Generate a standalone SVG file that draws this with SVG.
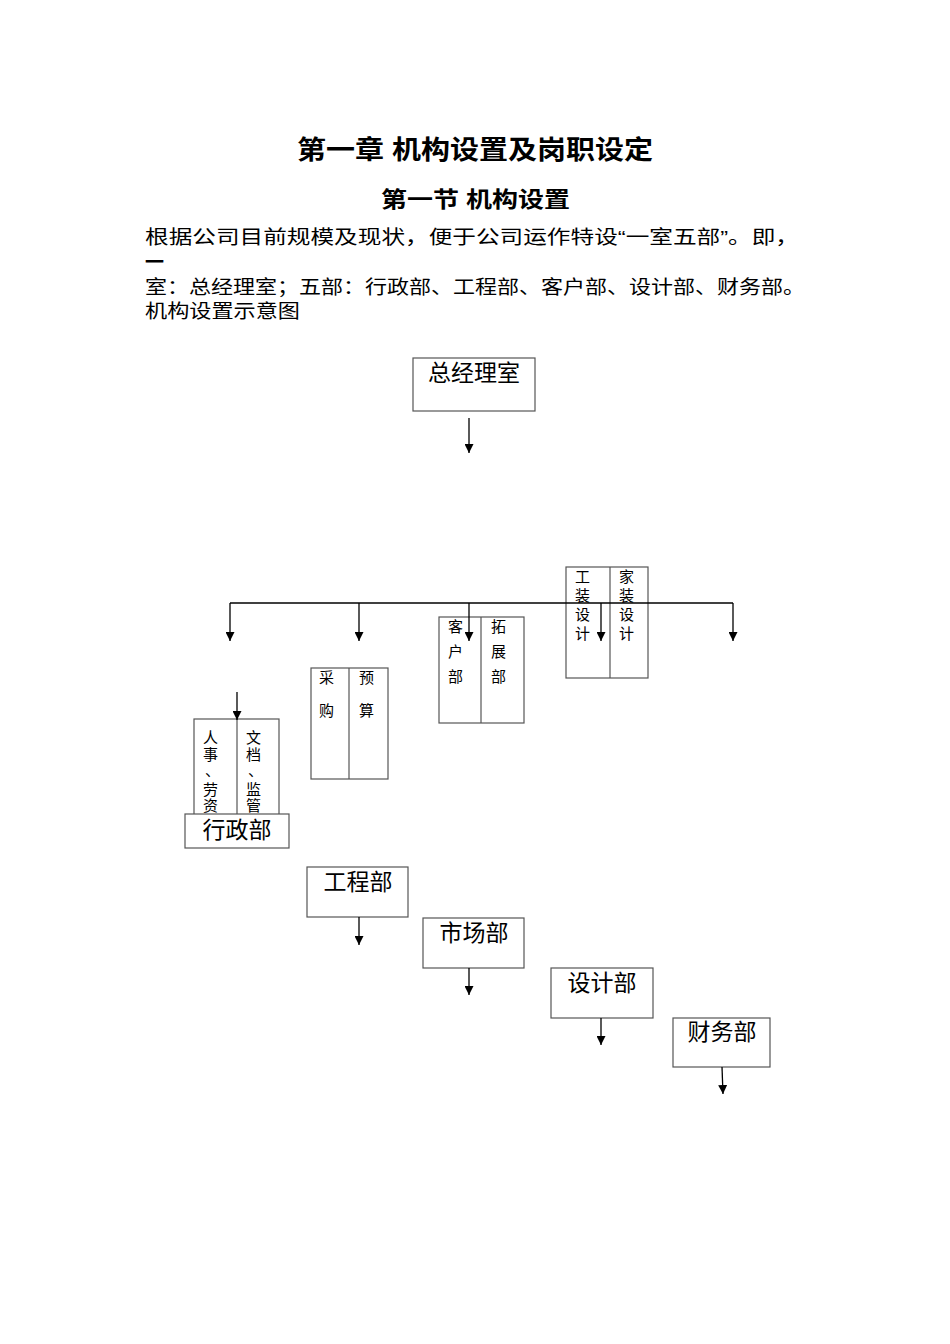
<svg xmlns="http://www.w3.org/2000/svg" width="950" height="1344" viewBox="0 0 950 1344">
<defs><marker id="a" viewBox="0 0 10 10" refX="10" refY="5" markerWidth="9" markerHeight="9" markerUnits="userSpaceOnUse" orient="auto"><path d="M0,0L10,5L0,10z" fill="#000"/></marker></defs>
<style>
text{font-family:"Liberation Sans","Noto Sans CJK SC",sans-serif;fill:#000}
.b{fill:#fff;stroke:#555;stroke-width:1.2}
.l{stroke:#000;stroke-width:1.3;fill:none}
.ar{stroke:#000;stroke-width:1.3;marker-end:url(#a)}
.s{font-size:15px}
.m{font-size:23px}
.p{font-size:19px}
</style>
<rect width="950" height="1344" fill="#fff"/>
<text x="297" y="159" font-size="26" font-weight="bold" textLength="356" lengthAdjust="spacingAndGlyphs">第一章  机构设置及岗职设定</text>
<text x="381" y="207" font-size="22" font-weight="bold" textLength="189" lengthAdjust="spacingAndGlyphs">第一节  机构设置</text>
<text class="p" x="145" y="244" textLength="654" lengthAdjust="spacingAndGlyphs">根据公司目前规模及现状，便于公司运作特设“一室五部”。即，</text>
<text class="p" x="145" y="269" font-weight="bold">一</text>
<text class="p" x="145" y="294" textLength="660" lengthAdjust="spacingAndGlyphs">室：总经理室；五部：行政部、工程部、客户部、设计部、财务部。</text>
<text class="p" x="145" y="318" textLength="155" lengthAdjust="spacingAndGlyphs">机构设置示意图</text>
<g id="zjl"><rect class="b" x="413" y="358" width="122" height="53"/><text class="m" x="474" y="381" text-anchor="middle">总经理室</text></g>
<g id="gz"><rect class="b" x="566" y="567" width="82" height="111"/><line class="b" x1="610" y1="567" x2="610" y2="678"/>
<text class="s" x="575" y="582">工</text><text class="s" x="575" y="601">装</text><text class="s" x="575" y="620">设</text><text class="s" x="575" y="639">计</text>
<text class="s" x="619" y="582">家</text><text class="s" x="619" y="601">装</text><text class="s" x="619" y="620">设</text><text class="s" x="619" y="639">计</text></g>
<g id="kh"><rect class="b" x="439" y="617" width="85" height="106"/><line class="b" x1="481" y1="617" x2="481" y2="723"/>
<text class="s" x="448" y="632">客</text><text class="s" x="448" y="657">户</text><text class="s" x="448" y="682">部</text>
<text class="s" x="491" y="632">拓</text><text class="s" x="491" y="657">展</text><text class="s" x="491" y="682">部</text></g>
<g id="cg"><rect class="b" x="311" y="668" width="77" height="111"/><line class="b" x1="349" y1="668" x2="349" y2="779"/>
<text class="s" x="319" y="683">采</text><text class="s" x="319" y="716">购</text>
<text class="s" x="359" y="683">预</text><text class="s" x="359" y="716">算</text></g>
<g id="rs"><rect class="b" x="194" y="719" width="85" height="106"/><line class="b" x1="237" y1="719" x2="237" y2="825"/>
<text class="s" x="203" y="743">人</text><text class="s" x="203" y="760">事</text><text class="s" x="205" y="776">、</text><text class="s" x="203" y="795">劳</text><text class="s" x="203" y="811">资</text>
<text class="s" x="246" y="743">文</text><text class="s" x="246" y="760">档</text><text class="s" x="248" y="776">、</text><text class="s" x="246" y="795">监</text><text class="s" x="246" y="811">管</text></g>
<g id="xz"><rect class="b" x="185" y="814" width="104" height="34"/><text class="m" x="237" y="838" text-anchor="middle">行政部</text></g>
<g id="gc"><rect class="b" x="307" y="867" width="101" height="50"/><text class="m" x="358" y="890" text-anchor="middle">工程部</text></g>
<g id="sc"><rect class="b" x="423" y="918" width="101" height="50"/><text class="m" x="474" y="941" text-anchor="middle">市场部</text></g>
<g id="sj"><rect class="b" x="551" y="968" width="102" height="50"/><text class="m" x="602" y="991" text-anchor="middle">设计部</text></g>
<g id="cw"><rect class="b" x="673" y="1018" width="97" height="49"/><text class="m" x="722" y="1040" text-anchor="middle">财务部</text></g>
<g id="connectors">
<line class="ar" x1="469" y1="418" x2="469" y2="453"/>
<line class="l" x1="230" y1="603" x2="733" y2="603"/>
<line class="ar" x1="230" y1="603" x2="230" y2="641"/>
<line class="ar" x1="359" y1="603" x2="359" y2="641"/>
<line class="ar" x1="469" y1="603" x2="469" y2="641"/>
<line class="ar" x1="601" y1="603" x2="601" y2="641"/>
<line class="ar" x1="733" y1="603" x2="733" y2="641"/>
<line class="ar" x1="237" y1="692" x2="237" y2="720"/>
<line class="ar" x1="359" y1="917" x2="359" y2="945"/>
<line class="ar" x1="469" y1="968" x2="469" y2="995"/>
<line class="ar" x1="601" y1="1018" x2="601" y2="1045"/>
<line class="ar" x1="722" y1="1067" x2="723" y2="1094"/>
</g>
</svg>
